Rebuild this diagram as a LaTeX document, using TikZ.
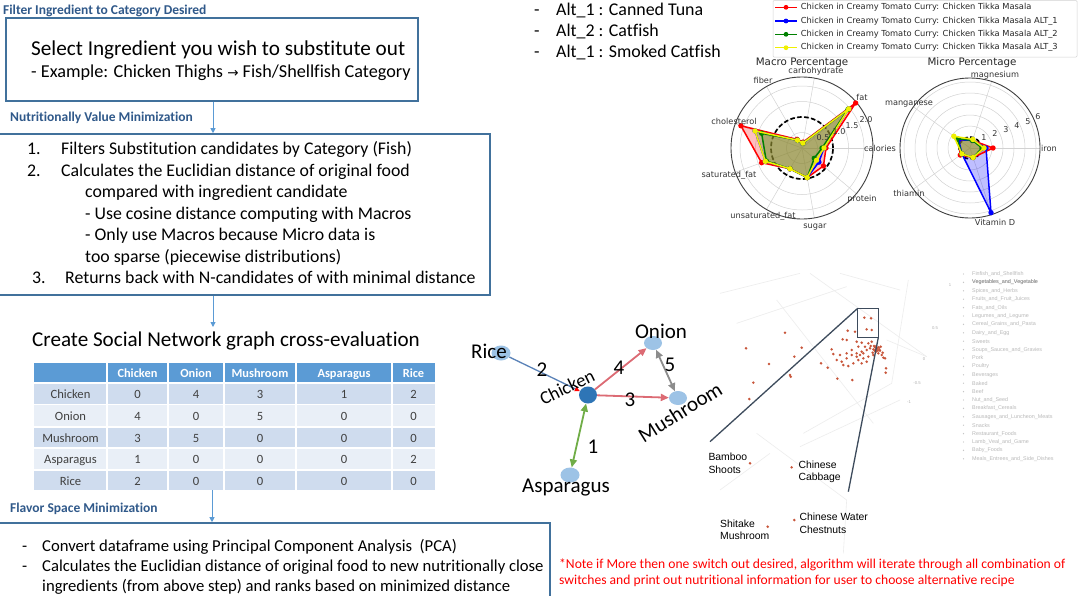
\documentclass[tikz,border=0pt]{standalone}
\usepackage{fontspec}
\setmainfont[Ligatures=CommonOff]{Carlito}
\newfontfamily\dejavu{DejaVu Sans}
\newfontfamily\arialf{Liberation Sans}
\usetikzlibrary{arrows.meta,shapes.geometric}
\definecolor{boxblue}{HTML}{41719C}
\definecolor{headblue}{HTML}{30598A}
\definecolor{arrblue}{HTML}{5B9BD5}
\definecolor{thead}{HTML}{5B9BD5}
\definecolor{rowdark}{HTML}{CFDCEE}
\definecolor{rowlight}{HTML}{E9EFF7}
\definecolor{celltext}{HTML}{404040}
\definecolor{nodelight}{HTML}{9DC3E6}
\definecolor{nodedark}{HTML}{2E75B6}
\definecolor{edgeblue}{HTML}{5A82B8}
\definecolor{edgered}{HTML}{DC6B74}
\definecolor{edgegray}{HTML}{8C8C8C}
\definecolor{edgegreen}{HTML}{70AD47}
\definecolor{dotred}{HTML}{C8553A}
\definecolor{hlbox}{HTML}{3D4B5C}
\definecolor{mplgreen}{HTML}{008000}
\definecolor{mplyellow}{HTML}{F0F000}
\newcommand\setfs[1]{\fontsize{#1}{#1}\selectfont}
\begin{document}
\begin{tikzpicture}[x=1pt,y=-1pt,
  box/.style={draw=boxblue, line width=1.6pt, rectangle, inner sep=0},
  head/.style={anchor=base west, inner sep=0, text=headblue, font=\setfs{13.5}\bfseries},
  txt/.style={anchor=base west, inner sep=0, font=\setfs{17.8}},
  txtc/.style={anchor=base west, inner sep=0, font=\setfs{16.65}},
  flowarrow/.style={draw=arrblue, line width=0.9pt, -{Triangle[length=5pt,width=5pt]}},
  cell/.style={anchor=base, inner sep=0, text=celltext, font=\setfs{12.6}},
  hcell/.style={anchor=base, inner sep=0, text=white, font=\setfs{12.4}\bfseries},
  ell/.style={ellipse, inner sep=0, draw=none},
  netlab/.style={inner sep=0, font=\setfs{21}},
  axlab/.style={inner sep=0, font=\dejavu\setfs{8.2}, text=black!80},
  ticklab/.style={inner sep=0, font=\dejavu\setfs{8}, text=black!80},
  leg/.style={anchor=west, inner sep=0, font=\dejavu\setfs{8.3}, text=black!85},
  sclab/.style={anchor=base west, inner sep=0, font=\arialf\setfs{10.4}},
  plylab/.style={anchor=west, inner sep=0, font=\arialf\setfs{5.4}, text=gray!55},
  plytick/.style={inner sep=0, font=\arialf\setfs{4.2}, text=gray!60},
  note/.style={anchor=base west, inner sep=0, text=red, font=\setfs{13.6}},
  faint/.style={draw=gray!14, line width=0.6pt}]
\useasboundingbox (0,0) rectangle (1078,595);
\clip (0,0) rectangle (1078,595);
\fill[white] (0,0) rectangle (1078,595);

% ---------------- left flow ----------------
\node[head] (h1) at (3,14.5) {Filter Ingredient to Category Desired};
\node[box, minimum width=412pt, minimum height=83pt] (b1) at (212,59.5) {};
\node[anchor=base west, inner sep=0, font=\setfs{21.2}] (s1) at (31,55.5) {Select Ingredient you wish to substitute out};
\node[anchor=base west, inner sep=0, font=\setfs{18.2}] (s2) at (31,77) {- Example: Chicken Thighs {\dejavu\setfs{13.5}→} Fish/Shellfish Category};
\coordinate (ax1) at (213,0);
\node[head] (h2) at (10,121) {Nutritionally Value Minimization};
\node[box, minimum width=492pt, minimum height=161pt] (b2) at (244,214.5) {};
\draw[flowarrow] (b1.south -| ax1) -- (b2.north -| ax1);

\node[txt] (n1) at (27,154.5) {1.};
\node[txt] (l1) at (61,154.5) {Filters Substitution candidates by Category (Fish)};
\node[txt] (n2) at (27,176) {2.};
\node[txt] (l2) at (61,176) {Calculates the Euclidian distance of original food};
\node[txt] (l3) at (85,197.5) {compared with ingredient candidate};
\node[txt] (l4) at (85,219) {- Use cosine distance computing with Macros};
\node[txt] (l5) at (85,240.5) {- Only use Macros because Micro data is};
\node[txt] (l6) at (85,262) {too sparse (piecewise distributions)};
\node[txt] (n3) at (32,283.5) {3.};
\node[txt] (l7) at (65,283.5) {Returns back with N-candidates of with minimal distance};

\coordinate (a2end) at (213,327);
\draw[flowarrow] (b2.south -| ax1) -- (a2end);
\node[anchor=base west, inner sep=0, font=\setfs{21.1}] (ctitle) at (32,346) {Create Social Network graph cross-evaluation};

% ---------------- table ----------------
\fill[thead] (34,362.5) rectangle (435,383);
\fill[rowdark] (34,383) rectangle (435,404.5);
\fill[rowlight] (34,404.5) rectangle (435,427);
\fill[rowdark] (34,427) rectangle (435,448);
\fill[rowlight] (34,448) rectangle (435,470);
\fill[rowdark] (34,470) rectangle (435,490);
\foreach \xx in {107,168,224,296,392} \draw[white, line width=1.2pt] (\xx,362.5) -- (\xx,490);
\foreach \yy in {383,404.5,427,448,470} \draw[white, line width=1.2pt] (34,\yy) -- (435,\yy);
\foreach \c/\xx/\t in {1/137.5/Chicken,2/196/Onion,3/260/Mushroom,4/344/Asparagus,5/413.5/Rice}
  \node[hcell] (th\c) at (\xx,377) {\t};
\foreach \r/\yy/\t/\va/\vb/\vc/\vd/\ve in {1/398.5/Chicken/0/4/3/1/2, 2/420.5/Onion/4/0/5/0/0, 3/442.5/Mushroom/3/5/0/0/0, 4/463.5/Asparagus/1/0/0/0/2, 5/485/Rice/2/0/0/0/0}{
  \node[cell] (tr\r) at (70.5,\yy) {\t};
  \node[cell] (tc\r a) at (137.5,\yy) {\va};
  \node[cell] (tc\r b) at (196,\yy) {\vb};
  \node[cell] (tc\r c) at (260,\yy) {\vc};
  \node[cell] (tc\r d) at (344,\yy) {\vd};
  \node[cell] (tc\r e) at (413.5,\yy) {\ve};
}
\coordinate (tbot) at (212,490);
\coordinate (ax3) at (212,0);
\node[head] (h3) at (10,512) {Flavor Space Minimization};
\node[box, minimum width=552pt, minimum height=82pt] (b3) at (274,564) {};
\draw[flowarrow] (tbot) -- (b3.north -| ax3);
\node[txtc] (d1) at (22,551.5) {-};
\node[txtc] (c1) at (42,551.5) {Convert dataframe using Principal Component Analysis\ \ (PCA)};
\node[txtc] (d2) at (22,571.5) {-};
\node[txtc] (c2) at (42,571.5) {Calculates the Euclidian distance of original food to new nutritionally close};
\node[txtc] (c3) at (42,591.5) {ingredients (from above step) and ranks based on minimized distance};

% ---------------- alternatives ----------------
\foreach \i/\yy/\t in {1/15.5/{Alt\_1 : Canned Tuna},2/36.5/{Alt\_2 : Catfish},3/57.5/{Alt\_1 : Smoked Catfish}}{
  \node[anchor=base west, inner sep=0, font=\setfs{17.9}] (ad\i) at (534,\yy) {-};
  \node[anchor=base west, inner sep=0, font=\setfs{17.9}] (at\i) at (556,\yy) {\t};
}

% ---------------- legend ----------------
\draw[gray!35, fill=white, line width=0.5pt, rounded corners=1pt] (773,0.5) rectangle (1077,57);
\foreach \i/\yy/\cc/\t in {1/7.3/red/{},2/21/blue/{ ALT\_1},3/34.3/mplgreen/{ ALT\_2},4/47.7/mplyellow/{ ALT\_3}}{
  \draw[\cc, line width=1.4pt] (775,\yy) -- (797,\yy);
  \fill[\cc] (786,\yy) circle (2.4pt);
  \node[leg] (lg\i) at (800.7,\yy) {Chicken in Creamy Tomato Curry: Chicken Tikka Masala\t};
}

% ---------------- macro radar ----------------
\node[inner sep=0, anchor=base, font=\dejavu\setfs{10.3}, text=black!85] (macT) at (802,65) {Macro Percentage};
\begin{scope}[shift={(802,148)}, x=1pt, y=1pt]
  \foreach \r in {15.5,31,46.5,62} \draw[gray!35, line width=0.5pt] (0,0) circle (\r pt);
  \foreach \a in {0,40,...,320} \draw[gray!35, line width=0.5pt] (0,0) -- (\a:71);
  \draw[black!75, line width=0.9pt] (0,0) circle (71pt);
  \draw[black, line width=1.7pt, dash pattern=on 4.5pt off 2.5pt] (0,0) circle (31pt);
  \fill[red, opacity=.25] (0:24)--(40:70)--(80:6)--(120:10)--(160:65)--(200:43)--(240:24)--(280:30)--(320:28)--cycle;
  \fill[blue, opacity=.25] (0:22)--(40:61)--(80:5)--(120:9)--(160:50)--(200:39)--(240:24)--(280:30)--(320:22)--cycle;
  \fill[mplgreen, opacity=.25] (0:20)--(40:60)--(80:5)--(120:9)--(160:43)--(200:38)--(240:24)--(280:30)--(320:16)--cycle;
  \fill[mplyellow, opacity=.3] (0:22)--(40:61)--(80:5)--(120:9)--(160:50)--(200:39)--(240:24)--(280:30)--(320:19)--cycle;
  \draw[red, line width=1.5pt, line join=round] (0:24)--(40:70)--(80:6)--(120:10)--(160:65)--(200:43)--(240:24)--(280:30)--(320:28)--cycle;
  \foreach \a/\r in {0/24,40/70,80/6,120/10,160/65,200/43,240/24,280/30,320/28} \fill[red] (\a:\r) circle (2.7pt);
  \draw[blue, line width=1.5pt, line join=round] (0:22)--(40:61)--(80:5)--(120:9)--(160:50)--(200:39)--(240:24)--(280:30)--(320:22)--cycle;
  \foreach \a/\r in {0/22,40/61,80/5,120/9,160/50,200/39,240/24,280/30,320/22} \fill[blue] (\a:\r) circle (2.7pt);
  \draw[mplgreen, line width=1.5pt, line join=round] (0:20)--(40:60)--(80:5)--(120:9)--(160:43)--(200:38)--(240:24)--(280:30)--(320:16)--cycle;
  \foreach \a/\r in {0/20,40/60,80/5,120/9,160/43,200/38,240/24,280/30,320/16} \fill[mplgreen] (\a:\r) circle (2.7pt);
  \draw[mplyellow, line width=1.5pt, line join=round] (0:22)--(40:61)--(80:5)--(120:9)--(160:50)--(200:39)--(240:24)--(280:30)--(320:19)--cycle;
  \foreach \a/\r in {0/22,40/61,80/5,120/9,160/50,200/39,240/24,280/30,320/19} \fill[mplyellow] (\a:\r) circle (2.7pt);
\end{scope}
\node[ticklab] (mt1) at (823,138) {0.5};
\node[ticklab] (mt2) at (839,132) {1.0};
\node[ticklab] (mt3) at (852,126) {1.5};
\node[ticklab] (mt4) at (866,120) {2.0};
\node[axlab, anchor=base] (mx1) at (816,73) {carbohydrate};
\node[axlab, anchor=base] (mx2) at (763,83) {fiber};
\node[axlab, anchor=base] (mx3) at (862,100) {fat};
\node[axlab, anchor=base] (mx4) at (734,124) {cholesterol};
\node[axlab, anchor=base] (mx5) at (880,151) {calories};
\node[axlab, anchor=base] (mx6) at (729,177) {saturated\_fat};
\node[axlab, anchor=base] (mx7) at (862,201) {protein};
\node[axlab, anchor=base] (mx8) at (763,218) {unsaturated\_fat};
\node[axlab, anchor=base] (mx9) at (815,228) {sugar};

% ---------------- micro radar ----------------
\node[inner sep=0, anchor=base, font=\dejavu\setfs{10.3}, text=black!85] (micT) at (972,65) {Micro Percentage};
\begin{scope}[shift={(970,148)}, x=1pt, y=1pt]
  \foreach \r in {11,22,33,44,55,66} \draw[gray!35, line width=0.5pt] (0,0) circle (\r pt);
  \foreach \a in {0,72,144,216,288} \draw[gray!35, line width=0.5pt] (0,0) -- (\a:70);
  \draw[black!75, line width=0.9pt] (0,0) circle (70pt);
  \draw[black, line width=1.7pt, dash pattern=on 4pt off 2.5pt] (0,0) circle (11pt);
  \fill[red, opacity=.25] (0:23)--(72:8)--(144:14)--(216:12)--(288:10)--cycle;
  \fill[blue, opacity=.25] (0:16)--(72:8)--(144:14)--(216:10)--(288:68)--cycle;
  \fill[mplgreen, opacity=.25] (0:12)--(72:8)--(144:16)--(216:10)--(288:10)--cycle;
  \fill[mplyellow, opacity=.3] (0:14)--(72:9)--(144:20)--(216:10)--(288:10)--cycle;
  \draw[red, line width=1.5pt, line join=round] (0:23)--(72:8)--(144:14)--(216:12)--(288:10)--cycle;
  \foreach \a/\r in {0/23,72/8,144/14,216/12,288/10} \fill[red] (\a:\r) circle (2.7pt);
  \draw[blue, line width=1.5pt, line join=round] (0:16)--(72:8)--(144:14)--(216:10)--(288:68)--cycle;
  \foreach \a/\r in {0/16,72/8,144/14,216/10,288/68} \fill[blue] (\a:\r) circle (2.7pt);
  \draw[mplgreen, line width=1.5pt, line join=round] (0:12)--(72:8)--(144:16)--(216:10)--(288:10)--cycle;
  \foreach \a/\r in {0/12,72/8,144/16,216/10,288/10} \fill[mplgreen] (\a:\r) circle (2.7pt);
  \draw[mplyellow, line width=1.5pt, line join=round] (0:14)--(72:9)--(144:20)--(216:10)--(288:10)--cycle;
  \foreach \a/\r in {0/14,72/9,144/20,216/10,288/10} \fill[mplyellow] (\a:\r) circle (2.7pt);
\end{scope}
\foreach \i/\xx/\yy in {1/984/138,2/995/134,3/1006/130,4/1017/126,5/1028/122,6/1038/117}
  \node[ticklab] (ut\i) at (\xx,\yy) {\i};
\node[axlab, anchor=base] (ux1) at (995,77) {magnesium};
\node[axlab, anchor=base] (ux2) at (909,105) {manganese};
\node[axlab, anchor=base] (ux3) at (1049,151) {iron};
\node[axlab, anchor=base] (ux4) at (909,196) {thiamin};
\node[axlab, anchor=base] (ux5) at (995,225) {Vitamin D};

% ---------------- network ----------------
\node[ell, fill=nodelight, minimum width=19pt, minimum height=15pt] (rice) at (501,353) {};
\node[ell, fill=nodelight, minimum width=18pt, minimum height=14pt] (onion) at (653,343) {};
\node[ell, fill=nodelight, minimum width=18pt, minimum height=14pt] (mush) at (678,398) {};
\node[ell, fill=nodelight, minimum width=19pt, minimum height=15pt] (asp) at (570,475) {};
\node[ell, fill=nodedark, minimum width=18pt, minimum height=17pt] (chick) at (588,395) {};
\draw[edgeblue, line width=1.3pt, -{Triangle[length=5pt,width=4.5pt,color=red]}] (rice) -- (chick);
\draw[edgered, line width=1.8pt, -{Triangle[length=8pt,width=7pt]}] (chick) -- (onion);
\draw[edgered, line width=1.8pt, -{Triangle[length=8pt,width=7pt]}] (chick) -- (mush);
\draw[edgegray, line width=1.8pt, {Triangle[length=8pt,width=7pt]}-{Triangle[length=8pt,width=7pt]}] (onion) -- (mush);
\draw[edgegreen, line width=1.8pt, {Triangle[length=8pt,width=7pt]}-{Triangle[length=8pt,width=7pt]}] (chick) -- (asp);
\node[netlab] (ricel) at (489,351) {Rice};
\node[netlab] (onionl) at (661,331) {Onion};
\node[netlab] (aspl) at (566,488) {Asparagus};
\node[netlab, rotate=26, font=\setfs{18.5}] (chickl) at (567,387) {Chicken};
\node[netlab, rotate=32] (mushl) at (680,412) {Mushroom};
\node[netlab] (e2) at (542,370) {2};
\node[netlab] (e4) at (619,368) {4};
\node[netlab] (e3) at (630,400) {3};
\node[netlab] (e5) at (670,365) {5};
\node[netlab] (e1) at (593,447) {1};

% ---------------- PCA scatter ----------------
\begin{scope}[shift={(700,260)}, x=0.33333pt, y=-0.33333pt]
  \draw[faint] (625,60) -- (575,370) -- (310,520);
  \draw[faint] (230,120) -- (520,490);
  \draw[faint] (330,40) -- (680,290);
  \draw[faint] (600,90) -- (420,40);
  \draw[faint] (680,290) -- (560,240);
  \draw[faint] (60,100) -- (300,40);
  \draw[faint] (110,190) -- (440,80);
  \draw[faint] (170,520) -- (440,720) -- (430,880);
  \draw[faint] (60,690) -- (210,580);
  \draw[faint] (300,560) -- (600,420);
  \foreach \px/\py in {493/173,513/175,500/208,515/210,443/212,465/215,428/238,440/240,255/218,138/265,305/263,395/268,400/282,283/290,207/312,270/345,272/350,160/368,363/310,383/323,412/356,457/360,148/417,558/325,557/338,
    425/305,440/295,455/285,470/280,485/275,500/270,510/265,520/268,530/270,540/272,535/280,545/285,550/293,520/285,505/290,490/295,475/300,460/310,445/318,430/315,485/310,500/305,470/290,480/285,490/280,495/260,505/250,515/245,485/248,470/245,475/260,455/270,440/280,420/285,410/300,525/262,532/265,538/268,528/275,518/278,522/258,512/258,548/278,542/260,555/295,527/268,533/272,536/262,529/258,524/272,150/610,275/622,283/780,203/800}
    \fill[dotred] (\px,\py) circle (1.4pt);
  \draw[hlbox, line width=1.3pt] (473,145) rectangle (535,232);
  \coordinate (hltl) at (473,145);
  \coordinate (hlbr) at (535,232);
  \coordinate (z1) at (30,545);
  \coordinate (z2) at (445,695);
  \draw[hlbox, line width=1.3pt] (hltl) -- (z1);
  \draw[hlbox, line width=1.3pt] (hlbr) -- (z2);
\end{scope}
\node[plytick] (pt1) at (950,285) {1};
\node[plytick] (pt2) at (935,328) {0.5};
\node[plytick] (pt3) at (924,359) {0};
\node[plytick] (pt4) at (917,383) {-0.5};
\node[plytick] (pt5) at (909,402) {-1};
\node[sclab] (sb1) at (708.3,460.7) {Bamboo};
\node[sclab] (sb2) at (708.3,473.3) {Shoots};
\node[sclab] (sc1) at (798.3,468.3) {Chinese};
\node[sclab] (sc2) at (798.3,480.7) {Cabbage};
\node[sclab] (sw1) at (799.3,520.7) {Chinese Water};
\node[sclab] (sw2) at (799.3,533.3) {Chestnuts};
\node[sclab] (sm1) at (720,527.3) {Shitake};
\node[sclab] (sm2) at (720,539.3) {Mushroom};
\foreach \i/\t in {0/Finfish\_and\_Shellfish,1/Vegetables\_and\_Vegetable,2/Spices\_and\_Herbs,3/Fruits\_and\_Fruit\_Juices,4/Fats\_and\_Oils,5/Legumes\_and\_Legume,6/Cereal\_Grains\_and\_Pasta,7/Dairy\_and\_Egg,8/Sweets,9/Soups\_Sauces\_and\_Gravies,10/Pork,11/Poultry,12/Beverages,13/Baked,14/Beef,15/Nut\_and\_Seed,16/Breakfast\_Cereals,17/Sausages\_and\_Luncheon\_Meats,18/Snacks,19/Restaurant\_Foods,20/Lamb\_Veal\_and\_Game,21/Baby\_Foods,22/Meals\_Entrees\_and\_Side\_Dishes}{
  \fill[gray!45] (963.5,274+8.4*\i) circle (0.7pt);
  \node[plylab] (pl\i) at (972,274+8.4*\i) {\t};
}
\node[plylab, text=gray!90] (plv) at (972,282.4) {Vegetables\_and\_Vegetable};

% ---------------- note ----------------
\node[note] (nt1) at (559,568.5) {*Note if More then one switch out desired, algorithm will iterate through all combination of};
\node[note] (nt2) at (559,584) {switches and print out nutritional information for user to choose alternative recipe};
\end{tikzpicture}
\end{document}
